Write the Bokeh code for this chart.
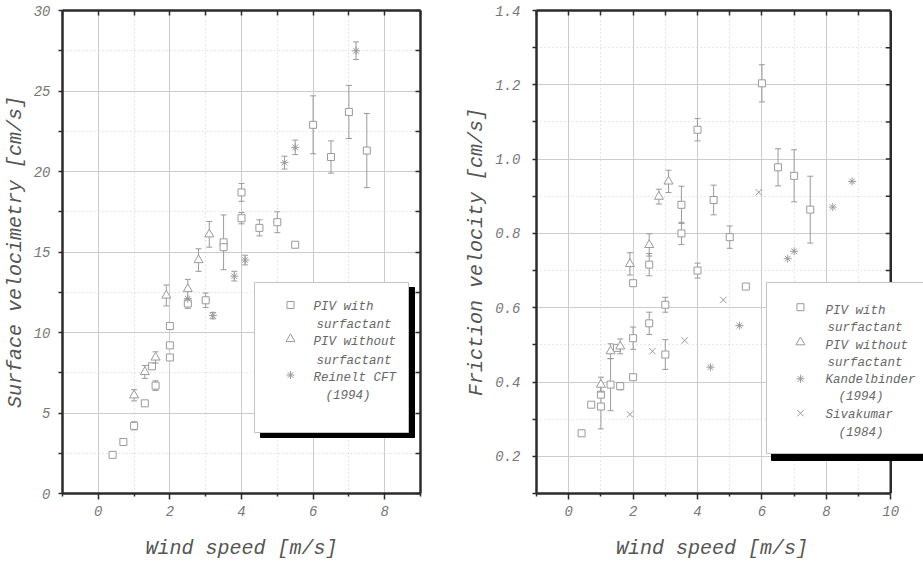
from bokeh.plotting import figure
from bokeh.layouts import row
from bokeh.models import (FixedTicker, Range1d, BoxAnnotation, Label, LinearAxis, Span,
                          CustomJSTickFormatter, PrintfTickFormatter)
from bokeh.embed import file_html
from bokeh.resources import INLINE

FONT = "Liberation Mono"
MARK = "#9a9a9a"
FRAME = "#2b2b2b"

# ---------------- Left panel data: surface velocimetry [cm/s] ----------------
L_sq_x = [0.4, 0.7, 1.0, 1.3, 1.5, 1.6, 2.0, 2.0, 2.0, 2.5, 3.0, 3.5, 3.5, 4.0, 4.0, 4.5, 5.0, 5.5, 6.0, 6.5, 7.0, 7.5]
L_sq_y = [2.4, 3.2, 4.2, 5.6, 7.9, 6.7, 10.4, 9.2, 8.45, 11.8, 12.0, 15.6, 15.3, 18.7, 17.1, 16.5, 16.85, 15.45, 22.9, 20.9, 23.7, 21.3]
L_sq_e = [0, 0, 0.25, 0, 0, 0.3, 0, 0, 0, 0.3, 0.45, 1.7, 0, 0.55, 0.35, 0.5, 0.65, 0, 1.8, 1.0, 1.65, 2.3]

L_tri_x = [1.0, 1.3, 1.6, 1.9, 2.5, 2.8, 3.1]
L_tri_y = [6.1, 7.55, 8.45, 12.3, 12.7, 14.5, 16.1]
L_tri_e = [0.35, 0.4, 0.35, 0.65, 0.6, 0.7, 0.8]

L_ast_x = [2.5, 3.2, 3.8, 4.1, 5.2, 5.5, 7.2]
L_ast_y = [12.1, 11.05, 13.5, 14.5, 20.55, 21.5, 27.5]
L_ast_e = [0, 0.2, 0.3, 0.3, 0.4, 0.45, 0.55]

L_xmajor = [0, 2, 4, 6, 8]
L_xminor = [-1, 1, 3, 5, 7, 9]
L_ymajor = [0, 5, 10, 15, 20, 25, 30]
L_yminor = [2.5, 7.5, 12.5, 17.5, 22.5, 27.5]

# ---------------- Right panel data: friction velocity [cm/s] ----------------
R_sq_x = [0.4, 0.7, 1.0, 1.0, 1.3, 1.5, 1.6, 2.0, 2.0, 2.0, 2.5, 2.5, 3.0, 3.0, 3.5, 3.5, 4.0, 4.0, 4.5, 5.0, 5.5, 6.0, 6.5, 7.0, 7.5]
R_sq_y = [0.262, 0.339, 0.366, 0.334, 0.393, 0.492, 0.389, 0.666, 0.518, 0.413, 0.716, 0.558, 0.608, 0.474, 0.877, 0.80, 1.079, 0.70, 0.890, 0.79, 0.657, 1.204, 0.978, 0.955, 0.864]
R_sq_e = [0, 0, 0, 0.06, 0.07, 0, 0.01, 0, 0.03, 0, 0.03, 0.03, 0.02, 0.04, 0.05, 0.03, 0.03, 0.02, 0.04, 0.03, 0, 0.05, 0.05, 0.07, 0.09]

R_tri_x = [1.0, 1.3, 1.6, 1.9, 2.5, 2.8, 3.1]
R_tri_y = [0.393, 0.483, 0.496, 0.718, 0.769, 0.899, 0.94]
R_tri_e = [0.02, 0.02, 0.02, 0.03, 0.03, 0.02, 0.03]

R_kan_x = [4.4, 5.3, 6.8, 7.0, 8.2, 8.8]
R_kan_y = [0.44, 0.552, 0.732, 0.752, 0.871, 0.94]

R_siv_x = [1.9, 2.6, 3.6, 4.8, 5.9]
R_siv_y = [0.313, 0.483, 0.512, 0.621, 0.911]

R_xmajor = [0, 2, 4, 6, 8, 10]
R_xminor = [-1, 1, 3, 5, 7, 9]
R_ymajor = [0.2, 0.4, 0.6, 0.8, 1.0, 1.2, 1.4]
R_yminor = [0.1, 0.3, 0.5, 0.7, 0.9, 1.1, 1.3]

X_LABEL = "Wind speed [m/s]"
L_Y_LABEL = "Surface velocimetry [cm/s]"
R_Y_LABEL = "Friction velocity [cm/s]"

L_legend = ["PIV with", "surfactant", "PIV without", "surfactant", "Reinelt CFT", "(1994)"]
R_legend = ["PIV with", "surfactant", "PIV without", "surfactant", "Kandelbinder", "(1994)", "Sivakumar", "(1984)"]

# ---------------- layout constants (page pixels) ----------------
HEIGHT = 562
FRAME_TOP = 10
FRAME_BOTTOM = 493
L_WIDTH = 462
L_FRAME = (62, 420)
R_WIDTH = 461
R_FRAME = (533, 890)        # where x=-1 and x=10 sit
R_CANVAS_RIGHT = L_WIDTH + R_WIDTH
# the right frame runs on under the legend, so pad the centred x title on its right
R_XLABEL_PAD = "\u00a0" * 3

TICK_IN = 5


def style_main_axis(ax):
    ax.axis_line_color = FRAME
    ax.axis_line_width = 2.5
    ax.major_tick_line_color = FRAME
    ax.minor_tick_line_color = FRAME
    ax.major_tick_line_width = 1.5
    ax.minor_tick_line_width = 1.5
    ax.major_tick_in = 0
    ax.minor_tick_in = 0
    ax.major_label_text_font = FONT
    ax.major_label_text_font_style = "italic"
    ax.major_label_text_font_size = "14px"
    ax.major_label_text_color = "#777777"
    ax.axis_label_text_font = FONT
    ax.axis_label_text_font_style = "italic"
    ax.axis_label_text_font_size = "20px"
    ax.axis_label_text_color = "#555555"


def blank_axis(ticker, bounds="auto"):
    ax = LinearAxis(ticker=ticker, formatter=CustomJSTickFormatter(code="return ''"), bounds=bounds)
    ax.major_label_text_font_size = "0px"
    ax.major_label_standoff = 0
    ax.axis_line_color = FRAME
    ax.axis_line_width = 2.5
    ax.major_tick_line_color = FRAME
    ax.minor_tick_line_color = FRAME
    ax.major_tick_line_width = 1.5
    ax.minor_tick_line_width = 1.5
    ax.major_tick_in = TICK_IN
    ax.major_tick_out = 0
    ax.minor_tick_in = TICK_IN
    ax.minor_tick_out = 0
    return ax


def make_fig(width, frame, xr, yr, xmaj, xmin, ymaj, ymin, ylabel, yfmt, x0_page,
             extend_to=None, ylab_standoff=8):
    bl = frame[0] - x0_page
    if extend_to is None:
        br = x0_page + width - frame[1]
        x_end = xr[1]
    else:
        br = 0
        x_end = xr[1] + (extend_to - frame[1]) * (xr[1] - xr[0]) / (frame[1] - frame[0])
    p = figure(width=width, height=HEIGHT, x_range=Range1d(xr[0], x_end), y_range=Range1d(*yr),
               output_backend="svg", toolbar_location=None,
               min_border_left=bl, min_border_right=br,
               min_border_top=FRAME_TOP, min_border_bottom=HEIGHT - FRAME_BOTTOM)
    p.outline_line_color = None
    p.background_fill_color = "white"
    p.border_fill_color = "white"

    xt = FixedTicker(ticks=xmaj, minor_ticks=xmin)
    yt = FixedTicker(ticks=ymaj, minor_ticks=ymin)
    p.xaxis.ticker = xt
    p.yaxis.ticker = yt
    p.yaxis.formatter = PrintfTickFormatter(format=yfmt)
    style_main_axis(p.xaxis[0])
    style_main_axis(p.yaxis[0])
    p.xaxis.major_tick_out = 6
    p.xaxis.minor_tick_out = 3
    p.xaxis.major_label_standoff = 6
    p.xaxis.axis_label_standoff = 18
    p.yaxis.major_tick_out = 4
    p.yaxis.minor_tick_out = 4
    p.yaxis.major_label_standoff = ylab_standoff
    p.yaxis.axis_label_standoff = 4
    p.yaxis.axis_label = ylabel

    for g in (p.xgrid[0], p.ygrid[0]):
        g.grid_line_color = "#cccccc"
        g.grid_line_width = 1
        g.minor_grid_line_color = "#cccccc"
        g.minor_grid_line_width = 1
        g.minor_grid_line_dash = "1 3"

    if extend_to is None:
        p.xaxis.axis_label = X_LABEL
        p.add_layout(blank_axis(xt), "above")
        p.add_layout(blank_axis(yt), "right")
    else:
        bounds = (xr[0], xr[1])
        p.xaxis.bounds = bounds
        p.xaxis.axis_label = X_LABEL + R_XLABEL_PAD
        p.add_layout(blank_axis(xt, bounds), "above")
        # blank out the grid beyond the plotting area
        p.add_layout(BoxAnnotation(left=xr[1], right=x_end + 1, fill_color="white", fill_alpha=1,
                                   line_color=None, level="glyph"))
        # right frame edge with inward ticks
        tick_len = TICK_IN * (x_end - xr[0]) / (extend_to - frame[0])
        yall = list(ymaj) + list(ymin)
        p.segment(x0=[xr[1]] * len(yall), y0=yall, x1=[xr[1] - tick_len] * len(yall), y1=yall,
                  line_color=FRAME, line_width=1.5)
        p.add_layout(Span(location=xr[1], dimension="height", line_color=FRAME, line_width=2.5))
    return p


def series(p, xs, ys, es, marker, size):
    if es is not None:
        idx = [i for i, e in enumerate(es) if e > 0]
        x = [xs[i] for i in idx]
        lo = [ys[i] - es[i] for i in idx]
        hi = [ys[i] + es[i] for i in idx]
        p.segment(x0=x, y0=lo, x1=x, y1=hi, line_color=MARK, line_width=1)
        p.scatter(x=x + x, y=lo + hi, marker="dash", size=6, line_color=MARK, line_width=1)
    p.scatter(x=xs, y=ys, marker=marker, size=size, line_color=MARK, fill_color="white", line_width=1)


def legend(p, frame_left, frame_right, box, shadow, markers, lines):
    p.extra_x_ranges = {"px": Range1d(frame_left, frame_right)}
    p.extra_y_ranges = {"px": Range1d(FRAME_BOTTOM, FRAME_TOP)}

    def sx(v):
        return v - frame_left

    def sy(v):
        return FRAME_BOTTOM - v

    sl, sr, st, sb = shadow
    p.add_layout(BoxAnnotation(left=sx(sl), right=sx(sr), top=sy(st), bottom=sy(sb),
                               left_units="screen", right_units="screen", top_units="screen", bottom_units="screen",
                               fill_color="black", fill_alpha=1, line_color="black", line_alpha=1))
    bl_, br_, bt, bb = box
    p.add_layout(BoxAnnotation(left=sx(bl_), right=sx(br_), top=sy(bt), bottom=sy(bb),
                               left_units="screen", right_units="screen", top_units="screen", bottom_units="screen",
                               fill_color="white", fill_alpha=1, line_color="#c4c4c4", line_alpha=1, line_width=1))
    for (mx, my, mk, ms) in markers:
        p.scatter(x=[mx], y=[my], marker=mk, size=ms, line_color=MARK, fill_color="white",
                  x_range_name="px", y_range_name="px", level="overlay")
    for (tx, ty, t) in lines:
        p.add_layout(Label(x=sx(tx), y=sy(ty), x_units="screen", y_units="screen", text=t,
                           text_font=FONT, text_font_style="italic", text_font_size="12.5px",
                           text_color="#666666", text_baseline="middle", text_align="left"))


# ---------------- Left figure ----------------
pl = make_fig(L_WIDTH, L_FRAME, (-1, 9), (0, 30), L_xmajor, L_xminor, L_ymajor, L_yminor,
              L_Y_LABEL, "%d", 0)
series(pl, L_sq_x, L_sq_y, L_sq_e, "square", 7)
series(pl, L_tri_x, L_tri_y, L_tri_e, "triangle", 9)
series(pl, L_ast_x, L_ast_y, L_ast_e, "asterisk", 8)
legend(pl, L_FRAME[0], L_FRAME[1],
       box=(254, 408, 282, 432), shadow=(260, 414, 287, 437),
       markers=[(290, 304.5, "square", 7), (290, 338.5, "triangle", 9), (290, 374.5, "asterisk", 8)],
       lines=[(313, 306.5, L_legend[0]), (316, 324.3, L_legend[1]), (313, 341.8, L_legend[2]),
              (316, 360, L_legend[3]), (313, 377.4, L_legend[4]), (325, 395, L_legend[5])])

# ---------------- Right figure ----------------
pr = make_fig(R_WIDTH, R_FRAME, (-1, 10), (0.1, 1.4), R_xmajor, R_xminor, R_ymajor, R_yminor,
              R_Y_LABEL, "%.1f", L_WIDTH, extend_to=R_CANVAS_RIGHT, ylab_standoff=12)
series(pr, R_sq_x, R_sq_y, R_sq_e, "square", 7)
series(pr, R_tri_x, R_tri_y, R_tri_e, "triangle", 9)
series(pr, R_kan_x, R_kan_y, None, "asterisk", 8)
series(pr, R_siv_x, R_siv_y, None, "x", 9)
legend(pr, R_FRAME[0], R_CANVAS_RIGHT,
       box=(763, 1000, 282, 453), shadow=(768, 1000, 288, 460),
       markers=[(799, 306.7, "square", 7), (799, 341.7, "triangle", 9),
                (799, 378.3, "asterisk", 8), (799, 412.7, "x", 9)],
       lines=[(822, 310, R_legend[0]), (824, 327.3, R_legend[1]), (822, 345, R_legend[2]),
              (824, 362.7, R_legend[3]), (822, 379, R_legend[4]), (835, 396.7, R_legend[5]),
              (822, 414.3, R_legend[6]), (835, 432.3, R_legend[7])])

layout = row(pl, pr)
open("out.html", "w").write(file_html(layout, INLINE))
